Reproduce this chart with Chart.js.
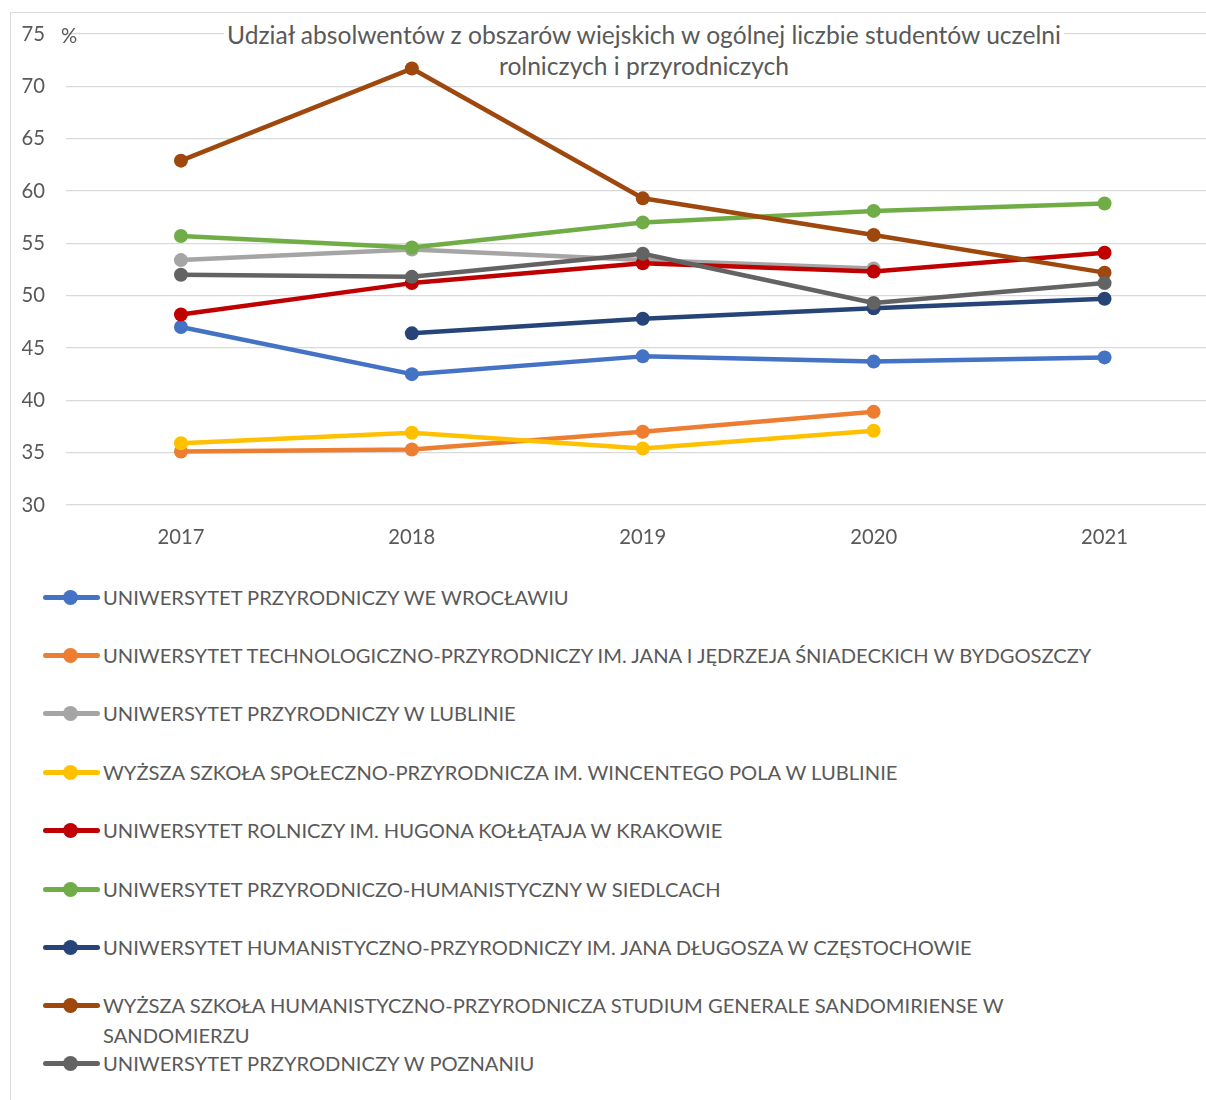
<!DOCTYPE html>
<html><head><meta charset="utf-8">
<script src="https://cdn.jsdelivr.net/npm/chart.js@4"></script>
<style>
html,body{margin:0;padding:0;background:#fff;overflow:hidden;width:1206px;height:1100px;position:relative;}
#frame{position:absolute;left:10px;top:12px;width:1400px;height:1400px;border-left:1px solid #d9d9d9;border-top:1px solid #d9d9d9;}
#wrap{position:absolute;left:0;top:0;width:1230px;height:560px;}
.tl{position:absolute;left:0;width:1288px;text-align:center;font-family:Lato,sans-serif;color:#595959;line-height:31px;}
.tl span{background:#fff;padding:0 3px;}
#pct{position:absolute;left:61px;top:23px;font-family:Lato,sans-serif;color:#595959;line-height:24px;}
.item{position:absolute;left:0;width:1206px;}
.sample{position:absolute;left:43px;width:57px;height:5px;border-radius:3px;}
.dot{position:absolute;left:63px;width:15px;height:15px;border-radius:50%;}
.txt{position:absolute;left:103px;width:1010px;font-family:Lato,sans-serif;color:#595959;line-height:30px;}
</style></head>
<body>
<div id="frame"></div>
<div id="wrap"><canvas id="c" width="1230" height="560"></canvas></div>
<div class="tl" id="t1" style="top:19px"><span>Udział absolwentów z obszarów wiejskich w ogólnej liczbie studentów uczelni</span></div>
<div class="tl" id="t2" style="top:50px"><span>rolniczych i przyrodniczych</span></div>
<div id="pct">%</div>
<div id="legend"></div>
<script>
const years = ['2017','2018','2019','2020','2021'];
const yMin = 30, yMax = 75, yStep = 5;
const seriesNames = [
  'UNIWERSYTET PRZYRODNICZY WE WROCŁAWIU',
  'UNIWERSYTET TECHNOLOGICZNO-PRZYRODNICZY IM. JANA I JĘDRZEJA ŚNIADECKICH W BYDGOSZCZY',
  'UNIWERSYTET PRZYRODNICZY W LUBLINIE',
  'WYŻSZA SZKOŁA SPOŁECZNO-PRZYRODNICZA IM. WINCENTEGO POLA W LUBLINIE',
  'UNIWERSYTET ROLNICZY IM. HUGONA KOŁŁĄTAJA W KRAKOWIE',
  'UNIWERSYTET PRZYRODNICZO-HUMANISTYCZNY W SIEDLCACH',
  'UNIWERSYTET HUMANISTYCZNO-PRZYRODNICZY IM. JANA DŁUGOSZA W CZĘSTOCHOWIE',
  'WYŻSZA SZKOŁA HUMANISTYCZNO-PRZYRODNICZA STUDIUM GENERALE SANDOMIRIENSE W SANDOMIERZU',
  'UNIWERSYTET PRZYRODNICZY W POZNANIU'
];
const wroclaw     = [47.0, 42.5, 44.2, 43.7, 44.1];
const bydgoszcz   = [35.1, 35.3, 37.0, 38.9, null];
const lublin      = [53.4, 54.4, 53.4, 52.6, null];
const polaLublin  = [35.9, 36.9, 35.4, 37.1, null];
const krakow      = [48.2, 51.2, 53.1, 52.3, 54.1];
const siedlce     = [55.7, 54.6, 57.0, 58.1, 58.8];
const czestochowa = [null, 46.4, 47.8, 48.8, 49.7];
const sandomierz  = [62.9, 71.7, 59.3, 55.8, 52.2];
const poznan      = [52.0, 51.8, 54.0, 49.3, 51.2];
const seriesValues = [wroclaw, bydgoszcz, lublin, polaLublin, krakow, siedlce, czestochowa, sandomierz, poznan];
const colors = ['#4472C4','#ED7D31','#A5A5A5','#FFC000','#C00000','#70AD47','#264478','#9E480E','#636363'];

// font fitting
const mc = document.createElement('canvas').getContext('2d');
function fit(text, target, family){
  mc.font = '20px ' + family;
  return 20 * target / mc.measureText(text).width;
}
const FAM = 'Lato';
const legSize = fit('UNIWERSYTET PRZYRODNICZY WE WROCŁAWIU', 468, FAM);
const titleSize = fit('Udział absolwentów z obszarów wiejskich w ogólnej liczbie studentów uczelni', 838, FAM);
const tickSize = fit('2017', 47, FAM);
document.getElementById('t1').style.fontSize = titleSize + 'px';
document.getElementById('t2').style.fontSize = titleSize + 'px';
document.getElementById('pct').style.fontSize = tickSize + 'px';

// legend
const centers = [597, 655, 713, 772, 830, 889, 947, 1005, 1063];
const leg = document.getElementById('legend');
seriesNames.forEach((n, i) => {
  const it = document.createElement('div');
  it.className = 'item';
  it.style.top = (centers[i] - 15) + 'px';
  it.innerHTML = '<div class="sample" style="top:13px;background:' + colors[i] + '"></div>' +
    '<div class="dot" style="top:8px;background:' + colors[i] + '"></div>' +
    '<div class="txt" style="top:0;font-size:' + legSize + 'px">' + n + '</div>';
  leg.appendChild(it);
});

Chart.defaults.font.family = FAM;
Chart.defaults.color = '#595959';
const N = seriesNames.length;
new Chart(document.getElementById('c'), {
  type: 'line',
  data: {
    labels: years,
    datasets: seriesNames.map((n, i) => ({
      label: n,
      data: seriesValues[i],
      borderColor: colors[i],
      backgroundColor: colors[i],
      pointBackgroundColor: colors[i],
      pointBorderColor: colors[i],
      borderWidth: 4.5,
      pointRadius: 7,
      pointBorderWidth: 0,
      tension: 0,
      spanGaps: false,
      fill: false,
      order: N - i,
      borderCapStyle: 'round',
      borderJoinStyle: 'round'
    }))
  },
  options: {
    responsive: false,
    animation: false,
    layout: { padding: { left: 0, right: 10, top: 34, bottom: 0 } },
    plugins: { legend: { display: false }, tooltip: { enabled: false }, title: { display: false } },
    scales: {
      x: {
        offset: true,
        grid: { display: false, drawTicks: false },
        border: { display: false },
        ticks: { padding: 20, font: { size: tickSize }, color: '#595959' },
        afterFit: s => { s.height = 55; }
      },
      y: {
        min: yMin, max: yMax,
        ticks: { stepSize: yStep, padding: 20.5, font: { size: tickSize }, color: '#595959' },
        grid: { color: '#d9d9d9', lineWidth: 1.3, drawTicks: false },
        border: { display: false },
        afterFit: s => { s.width = 65.5; }
      }
    }
  }
});
</script>
</body></html>
